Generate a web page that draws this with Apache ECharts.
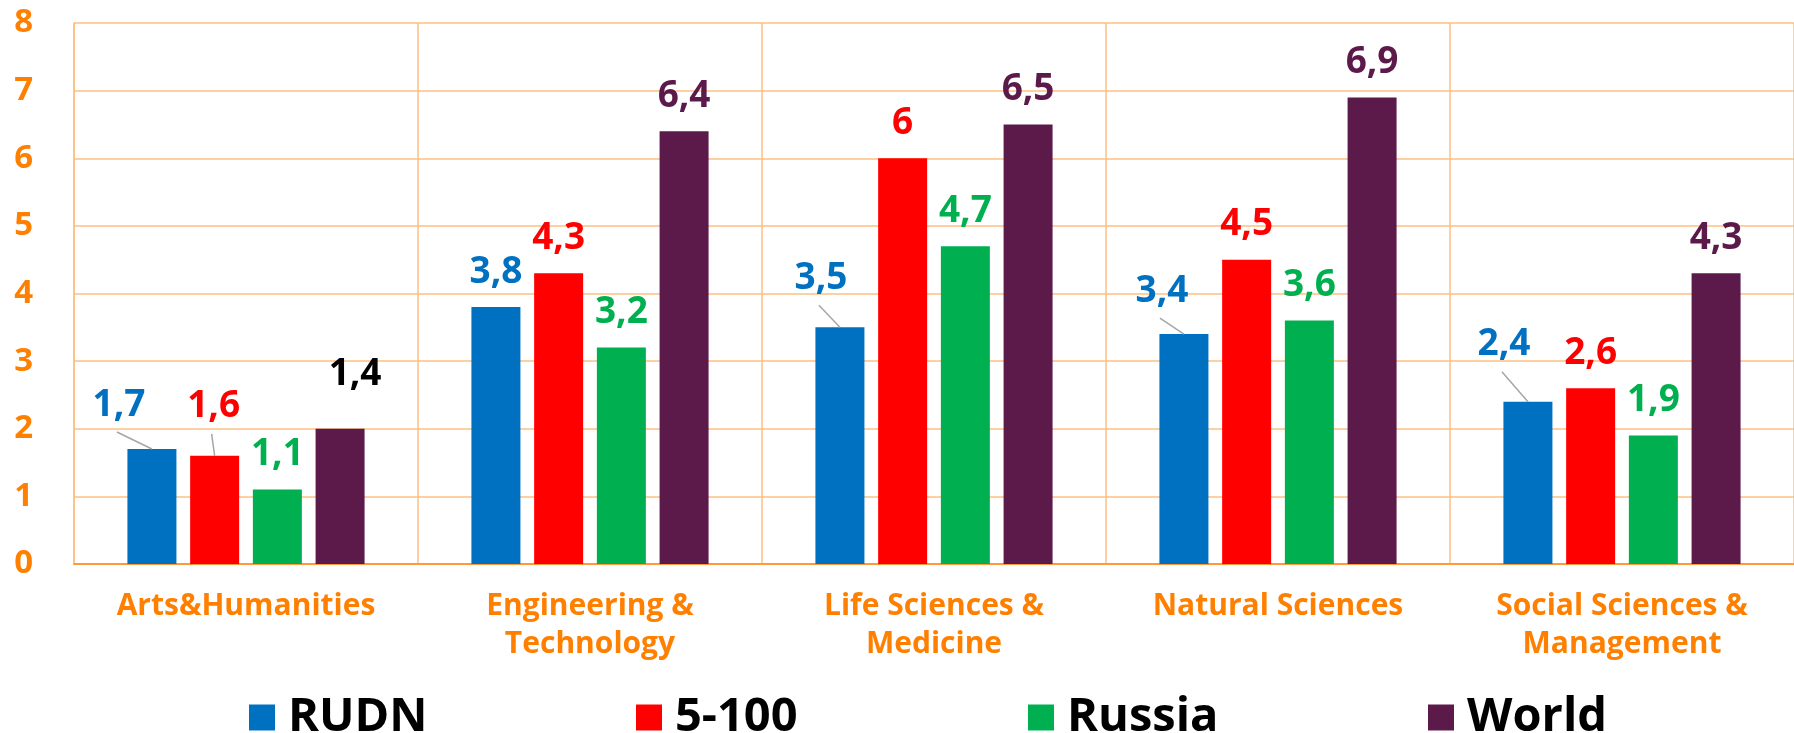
<!DOCTYPE html>
<html>
<head>
<meta charset="utf-8">
<script src="https://cdn.jsdelivr.net/npm/echarts@6/dist/echarts.min.js"></script>
<style>
  html, body { margin: 0; padding: 0; background: #fff; }
  #chart { width: 1794px; height: 733px; }
</style>
</head>
<body>
<div id="chart"></div>
<script>
var categories = ['Arts&Humanities', 'Engineering &\nTechnology', 'Life Sciences &\nMedicine', 'Natural Sciences', 'Social Sciences &\nManagement'];
var seriesNames = ['RUDN', '5-100', 'Russia', 'World'];
var rudn = [1.7, 3.8, 3.5, 3.4, 2.4];
var top100 = [1.6, 4.3, 6.0, 4.5, 2.6];
var russia = [1.1, 3.2, 4.7, 3.6, 1.9];
var world = [2.0, 6.4, 6.5, 6.9, 4.3];
// label text as printed on the chart (the first World bar is labelled 1,4)
var worldLabels = ['1,4', '6,4', '6,5', '6,9', '4,3'];
var yTicks = [0, 1, 2, 3, 4, 5, 6, 7, 8];

var colors = ['#0070C0', '#FF0000', '#00B050', '#5C1A4B'];
var orange = '#FF8000';
var font = 'Open Sans';

// label nudges (dx, dy) per series / category, third flag = leader line
var nudges = [
  [[-33, -9, true], [0, 0], [-19, -14, true], [-22, -8, true], [-24, -22, true]],
  [[-1, -14, true], [0, 0], [0, 0], [0, 0], [0, 0]],
  [[0, 0], [0, 0], [0, 0], [0, 0], [0, 0]],
  [[15, -19], [0, 0], [0, 0], [0, 0], [0, 0]]
];

function fmt(v) {
  return String(v).replace('.', ',');
}

var allValues = [rudn, top100, russia, world];

var series = seriesNames.map(function (name, s) {
  return {
    name: name,
    type: 'bar',
    barWidth: 49,
    barGap: '28%',
    itemStyle: { color: colors[s] },
    data: allValues[s].map(function (v, i) {
      return {
        value: v,
        label: { color: (s === 3 && i === 0) ? '#000' : colors[s] }
      };
    }),
    label: {
      show: true,
      position: 'top',
      distance: 17,
      fontFamily: font,
      fontWeight: 'bold',
      fontSize: 37,
      lineHeight: 36,
      formatter: function (p) {
        return s === 3 ? worldLabels[p.dataIndex] : fmt(p.value);
      }
    },
    labelLayout: function (p) {
      var n = nudges[s][p.dataIndex];
      return { dx: n[0], dy: n[1] };
    }
  };
});

var legendLeft = [249, 636, 1028, 1428];
var legends = seriesNames.map(function (name, s) {
  return {
    data: [name],
    left: legendLeft[s],
    top: 694,
    icon: 'rect',
    itemWidth: 26,
    itemHeight: 26,
    selectedMode: false,
    padding: 0,
    textStyle: {
      fontFamily: font,
      fontWeight: 'bold',
      fontSize: 47,
      lineHeight: 46,
      color: '#000',
      padding: [0, 0, 0, 8]
    }
  };
});

var chart = echarts.init(document.getElementById('chart'));
chart.setOption({
  animation: false,
  legend: legends,
  grid: { left: 74, top: 23, width: 1728, height: 541, containLabel: false },
  xAxis: {
    type: 'category',
    data: categories,
    axisLine: { lineStyle: { color: '#FF9A3C', width: 2 } },
    axisTick: { show: false },
    splitLine: { show: true, lineStyle: { color: '#FDBF82', width: 1.5 } },
    axisLabel: {
      color: orange,
      fontFamily: font,
      fontWeight: 'bold',
      fontSize: 30,
      lineHeight: 38,
      margin: 23,
      interval: 0
    }
  },
  yAxis: {
    type: 'value',
    min: yTicks[0],
    max: yTicks[yTicks.length - 1],
    interval: 1,
    axisLine: { show: true, lineStyle: { color: '#FDBF82', width: 1.5 } },
    axisTick: { show: false },
    splitLine: { lineStyle: { color: '#FDBF82', width: 1.5 } },
    axisLabel: {
      color: orange,
      fontFamily: font,
      fontWeight: 'bold',
      fontSize: 33,
      margin: 41
    }
  },
  series: series
});

// leader lines: from under the moved label to the top centre of its bar
var leaders = [];
seriesNames.forEach(function (name, s) {
  var data = chart.getModel().getSeriesByIndex(s).getData();
  nudges[s].forEach(function (n, i) {
    if (!n[2]) return;
    var lay = data.getItemLayout(i);
    var cx = lay.x + lay.width / 2;
    var top = Math.min(lay.y, lay.y + lay.height);
    leaders.push({
      type: 'line',
      z: 10,
      shape: { x1: cx + n[0] - 2, y1: top + n[1] - 8, x2: cx, y2: top },
      style: { stroke: '#A6A6A6', lineWidth: 1.5 }
    });
  });
});
chart.setOption({ graphic: leaders });
</script>
</body>
</html>
